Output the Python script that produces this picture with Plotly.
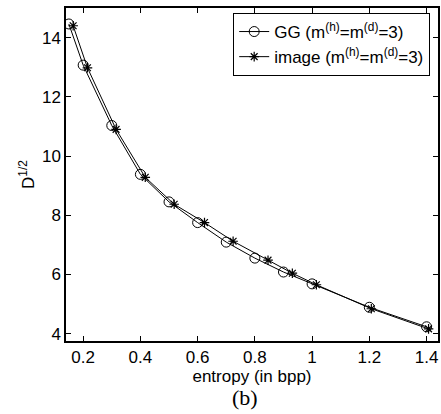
import plotly.graph_objects as go

gg_x = [0.15, 0.2, 0.3, 0.4, 0.5, 0.6, 0.7, 0.8, 0.9, 1.0, 1.2, 1.4]
gg_y = [14.46, 13.07, 11.03, 9.38, 8.45, 7.75, 7.09, 6.55, 6.08, 5.68, 4.89, 4.23]
img_x = [0.165, 0.215, 0.315, 0.417, 0.518, 0.624, 0.724, 0.846, 0.931, 1.015, 1.207, 1.407]
img_y = [14.40, 12.98, 10.90, 9.28, 8.37, 7.75, 7.12, 6.48, 6.04, 5.65, 4.84, 4.16]
x_ticks = [0.2, 0.4, 0.6, 0.8, 1, 1.2, 1.4]
y_ticks = [4, 6, 8, 10, 12, 14]

SANS = "Liberation Sans, Arial, sans-serif"

fig = go.Figure()
fig.add_trace(go.Scatter(
    x=gg_x, y=gg_y, mode="lines+markers",
    name="GG (m<sup>(h)</sup>=m<sup>(d)</sup>=3)",
    line=dict(color="black", width=1),
    marker=dict(symbol="circle-open", size=10, color="black", line=dict(width=1)),
))
fig.add_trace(go.Scatter(
    x=img_x, y=img_y, mode="lines+markers",
    name="image (m<sup>(h)</sup>=m<sup>(d)</sup>=3)",
    line=dict(color="black", width=1),
    marker=dict(symbol="asterisk-open", size=8, color="black", line=dict(width=1.2, color="black")),
))

axis_common = dict(
    showgrid=False, zeroline=False, showline=True, linecolor="black", linewidth=1.5,
    mirror="allticks", ticks="inside", ticklen=5, tickcolor="black", tickwidth=1,
    tickfont=dict(family=SANS, size=17, color="black"),
    automargin=False,
)
fig.update_xaxes(range=[0.14, 1.44], tickvals=x_ticks, ticktext=[str(v) for v in x_ticks],
                 title=dict(text="entropy (in bpp)", standoff=3,
                            font=dict(family=SANS, size=17, color="black")),
                 **axis_common)
fig.update_yaxes(range=[3.75, 15.0], tickvals=y_ticks,
                 title=dict(text="D<sup>1/2</sup>", standoff=3,
                            font=dict(family=SANS, size=17, color="black")),
                 **axis_common)

fig.add_annotation(text="(b)", xref="paper", yref="paper", x=0.48, y=-0.125,
                   xanchor="center", yanchor="top", showarrow=False,
                   font=dict(family="Liberation Serif, Times New Roman, serif", size=22, color="black"))

fig.update_layout(
    width=441, height=414,
    margin=dict(l=66, r=3, t=8, b=73),
    plot_bgcolor="white", paper_bgcolor="white",
    showlegend=True,
    legend=dict(x=0.979, y=0.985, xanchor="right", yanchor="top",
                bgcolor="white", bordercolor="black", borderwidth=1,
                font=dict(family=SANS, size=17, color="black"),
                tracegroupgap=0, itemwidth=30),
)
fig.write_html("out.html", config={"displayModeBar": False},
               post_script="document.body.style.margin='0';document.body.style.padding='0';")
